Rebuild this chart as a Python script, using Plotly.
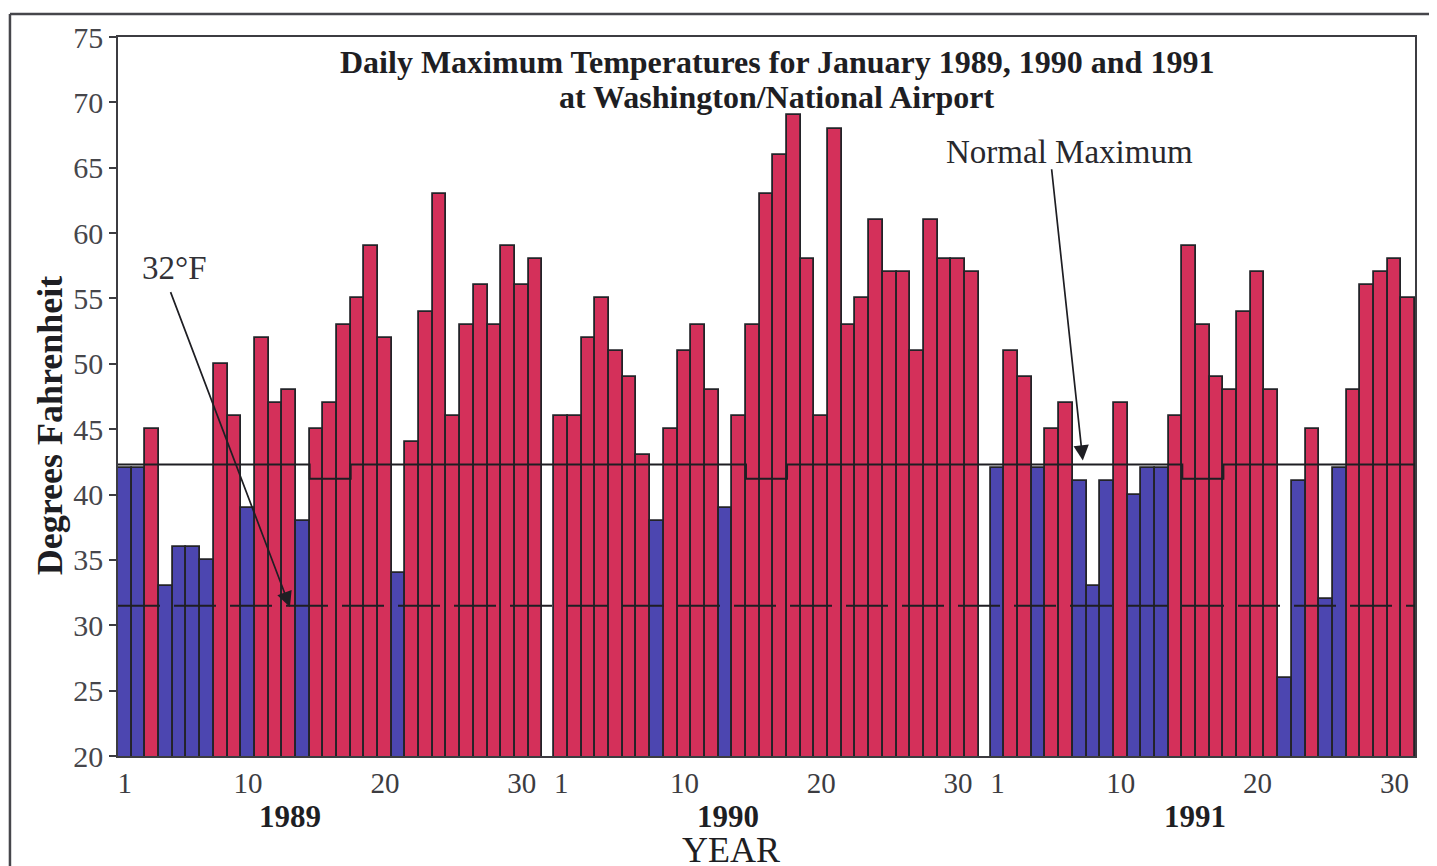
import plotly.graph_objects as go

# ---------------- data ----------------
years = ["1989", "1990", "1991"]
days = list(range(1, 32))
tmax_1989 = [42, 42, 45, 33, 36, 36, 35, 50, 46, 39, 52, 47, 48, 38, 45, 47,
             53, 55, 59, 52, 34, 44, 54, 63, 46, 53, 56, 53, 59, 56, 58]
tmax_1990 = [46, 46, 52, 55, 51, 49, 43, 38, 45, 51, 53, 48, 39, 46, 53, 63,
             66, 69, 58, 46, 68, 53, 55, 61, 57, 57, 51, 61, 58, 58, 57]
tmax_1991 = [42, 51, 49, 42, 45, 47, 41, 33, 41, 47, 40, 42, 42, 46, 59, 53,
             49, 48, 54, 57, 48, 26, 41, 45, 32, 42, 48, 56, 57, 58, 55]
normal_max = [42.3] * 14 + [41.2] * 3 + [42.3] * 14
freeze_line = 31.5
tick_days = [1, 10, 20, 30]
tick_text = ["1", "10", "20", "30"]
title_lines = ["Daily Maximum Temperatures for January 1989, 1990 and 1991",
               "at Washington/National Airport"]

series = [tmax_1989, tmax_1990, tmax_1991]

# ---------------- layout helpers ----------------
GAP = 0.88          # blank space between months (in bar widths)
RED = "rgb(212,48,90)"
BLUE = "rgb(76,70,176)"
EDGE = "rgb(35,35,40)"
INK = "rgb(30,30,35)"
SERIF = "Liberation Serif, Times New Roman, serif"

offsets = [i * (len(days) + GAP) for i in range(len(years))]

xs, ys, cols = [], [], []
nx, ny = [], []
for off, vals in zip(offsets, series):
    for d, v, n in zip(days, vals, normal_max):
        xs.append(off + d)
        ys.append(v)
        cols.append(BLUE if v < n else RED)
    for d, n in zip(days, normal_max):
        nx.append(off + d - 0.5)
        ny.append(n)
    nx.append(off + days[-1] + 0.5)
    ny.append(normal_max[-1])

x_lo = offsets[0] + 0.5
x_hi = offsets[-1] + days[-1] + 0.5

fig = go.Figure()
fig.add_trace(go.Bar(
    x=xs, y=ys, width=1.0,
    marker=dict(color=cols, line=dict(color=EDGE, width=1.8)),
    showlegend=False, hoverinfo="x+y",
))
fig.add_trace(go.Scatter(
    x=nx, y=ny, mode="lines", line=dict(color=INK, width=2, shape="hv"),
    showlegend=False, hoverinfo="skip",
))
fig.add_trace(go.Scatter(
    x=[x_lo, x_hi], y=[freeze_line, freeze_line], mode="lines",
    line=dict(color=INK, width=2, dash="42px,14px"),
    showlegend=False, hoverinfo="skip",
))

tickvals, ticktexts = [], []
for off in offsets:
    for d, t in zip(tick_days, tick_text):
        tickvals.append(off + d)
        ticktexts.append(t)

annotations = [
    dict(text=title_lines[0], x=0.508, y=0.965, xref="paper", yref="paper",
         xanchor="center", yanchor="middle", showarrow=False,
         font=dict(family=SERIF, size=32, color=INK, weight="bold")),
    dict(text=title_lines[1], x=0.508, y=0.9166, xref="paper", yref="paper",
         xanchor="center", yanchor="middle", showarrow=False,
         font=dict(family=SERIF, size=32, color=INK, weight="bold")),
    dict(text="Degrees Fahrenheit", textangle=-90, x=-0.0524, y=0.46, xref="paper", yref="paper",
         xanchor="center", yanchor="middle", showarrow=False,
         font=dict(family=SERIF, size=36, color=INK, weight="bold")),
    dict(text="YEAR", x=0.473, y=-0.1307, xref="paper", yref="paper", xanchor="center",
         yanchor="middle", showarrow=False, font=dict(family=SERIF, size=36, color=INK)),
    dict(text="32°F", x=4.66, y=57.3, xref="x", yref="y", showarrow=False,
         font=dict(family=SERIF, size=33, color="rgb(50,50,55)")),
    dict(text="", x=13.06, y=31.4, ax=4.3, ay=55.6, xref="x", yref="y", axref="x", ayref="y",
         showarrow=True, arrowhead=2, arrowsize=1.8, arrowwidth=1.7, arrowcolor=INK),
    dict(text="Normal Maximum", x=70.0, y=66.2, xref="x", yref="y", showarrow=False,
         font=dict(family=SERIF, size=33, color="rgb(40,40,45)")),
    dict(text="", x=70.99, y=42.6, ax=68.7, ay=65.0, xref="x", yref="y", axref="x", ayref="y",
         showarrow=True, arrowhead=2, arrowsize=1.8, arrowwidth=1.7, arrowcolor=INK),
]
year_centers = [13.1, 13.2, 15.4]
for off, yr, c in zip(offsets, years, year_centers):
    annotations.append(dict(text=yr, x=off + c, y=-0.0848, xref="x", yref="paper",
                            xanchor="center", yanchor="middle", showarrow=False,
                            font=dict(family=SERIF, size=31, color=INK, weight="bold")))

shapes = [
    dict(type="line", xref="paper", yref="paper", x0=-0.0833, x1=-0.0833, y0=1.032, y1=-0.2,
         line=dict(color="rgb(70,70,75)", width=2.5)),
    dict(type="line", xref="paper", yref="paper", x0=-0.0833, x1=1.02, y0=1.032, y1=1.032,
         line=dict(color="rgb(70,70,75)", width=2.5)),
]

fig.update_layout(
    width=1421, height=858,
    margin=dict(l=110, r=14, t=29, b=110),
    paper_bgcolor="white", plot_bgcolor="white",
    bargap=0,
    annotations=annotations, shapes=shapes,
    xaxis=dict(range=[x_lo, x_hi], tickvals=tickvals, ticktext=ticktexts, ticks="",
               showgrid=False, zeroline=False, showline=True, mirror=True,
               linecolor="rgb(60,60,65)", linewidth=1.5,
               tickfont=dict(family=SERIF, size=29, color="rgb(60,60,65)")),
    yaxis=dict(range=[20, 75], tickvals=list(range(20, 76, 5)), ticks="outside", ticklen=7,
               tickcolor="rgb(60,60,65)", tickwidth=1.5,
               showgrid=False, zeroline=False, showline=True, mirror=True,
               linecolor="rgb(60,60,65)", linewidth=1.5,
               tickfont=dict(family=SERIF, size=30, color="rgb(70,70,75)")),
)

fig.write_html("out.html")
